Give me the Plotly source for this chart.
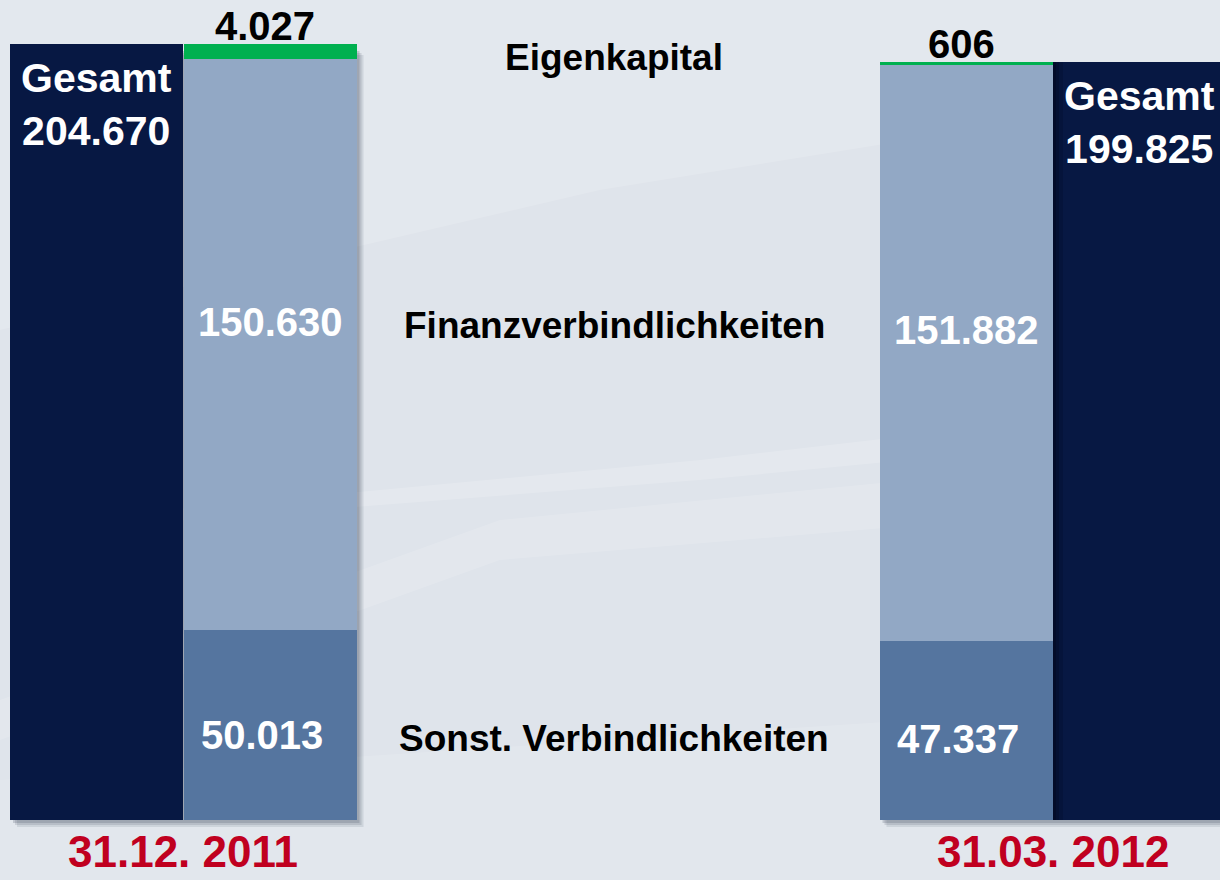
import plotly.graph_objects as go

# Werte in Tsd. EUR
dates = ["31.12. 2011", "31.03. 2012"]
sonst = [50013, 47337]
finanz = [150630, 151882]
eigen = [4027, 606]
gesamt = [204670, 199825]
labels_sonst = ["50.013", "47.337"]
labels_finanz = ["150.630", "151.882"]
labels_eigen = ["4.027", "606"]
labels_gesamt = ["204.670", "199.825"]

NAVY = "#071843"
LIGHT = "#92a8c5"
STEEL = "#55759f"
GREEN = "#00b050"
RED = "#c0001f"
FONT = "Liberation Sans, Arial, sans-serif"

W = 173
x_total = [96.5, 1139.5]
x_stack = [270, 966]

# pixel scale: 0 at y=820, 204.670 at y=44
per_px = gesamt[0] / 776
y_lo = -60 * per_px
y_hi = 820 * per_px


def py(p):
    # pixel -> paper y
    return 1 - p / 880


def px(p):
    return p / 1220


fig = go.Figure()

fig.add_trace(go.Bar(x=x_total, y=gesamt, width=W, marker=dict(color=NAVY, line_width=0), name="Gesamt"))
fig.add_trace(go.Bar(x=x_stack, y=sonst, width=W, marker=dict(color=STEEL, line_width=0), name="Sonst. Verbindlichkeiten"))
fig.add_trace(go.Bar(x=x_stack, y=finanz, width=W, marker=dict(color=LIGHT, line_width=0), name="Finanzverbindlichkeiten"))
fig.add_trace(go.Bar(x=x_stack, y=eigen, width=W, marker=dict(color=GREEN, line_width=0), name="Eigenkapital"))

shapes = []
# hintergrund-streifen (dezent)
streaks = [
    ([(0, 0), (1220, 0), (1220, 90), (600, 190), (0, 330)], "rgba(255,255,255,0.15)"),
    ([(0, 700), (500, 520), (1220, 450), (1220, 500), (500, 560), (0, 740)], "rgba(255,255,255,0.14)"),
    ([(60, 520), (700, 460), (1220, 400), (1220, 430), (700, 480), (60, 530)], "rgba(255,255,255,0.16)"),
    ([(0, 780), (1220, 700), (1220, 880), (0, 880)], "rgba(255,255,255,0.12)"),
]
for pts, col in streaks:
    path = "M " + " L ".join(f"{px(a):.4f} {py(b):.4f}" for a, b in pts) + " Z"
    shapes.append(dict(type="path", path=path, xref="paper", yref="paper", fillcolor=col,
                       line_width=0, layer="below"))

# schatten
for i in range(2):
    top = sonst[i] + finanz[i] + eigen[i]
    x0 = x_total[i] - W / 2 if i == 0 else x_stack[i] - W / 2
    x1 = x_stack[i] + W / 2 if i == 0 else x_total[i] + W / 2
    for k, a in [(7, 0.12), (5, 0.15), (3, 0.2)]:
        shapes.append(dict(type="rect", xref="x", yref="y", x0=x0 + k, x1=x1 + k,
                           y0=-k * per_px, y1=top - (k + 4) * per_px, fillcolor=f"rgba(60,70,90,{a})",
                           line_width=0, layer="below"))
# dunkler rand links am rechten Gesamt-Balken
for k, a in [(10, 0.15), (6, 0.2), (3, 0.25)]:
    shapes.append(dict(type="rect", xref="x", yref="y", x0=x_total[1] - W / 2, x1=x_total[1] - W / 2 + k,
                       y0=0, y1=gesamt[1], fillcolor=f"rgba(0,0,15,{a})", line_width=0, layer="above"))

annotations = []
for i in range(2):
    # Gesamt
    annotations.append(dict(x=x_total[i], y=gesamt[i], yshift=-60, xref="x", yref="y",
                            text="Gesamt<br>" + labels_gesamt[i], showarrow=False,
                            font=dict(family=FONT, size=41, color="white", weight="bold"),
                            yanchor="middle"))
    # Finanz
    annotations.append(dict(x=x_stack[i], y=sonst[i] + finanz[i] * 0.54, xref="x", yref="y",
                            text=labels_finanz[i], showarrow=False, yanchor="middle",
                            font=dict(family=FONT, size=40, color="white", weight="bold")))
    # Sonst
    annotations.append(dict(x=x_stack[i] - 8, y=sonst[i] * 0.45, xref="x", yref="y",
                            text=labels_sonst[i], showarrow=False, yanchor="middle",
                            font=dict(family=FONT, size=40, color="white", weight="bold")))
    # Eigenkapital
    annotations.append(dict(x=x_stack[i] - 5, y=sonst[i] + finanz[i] + eigen[i], xref="x", yref="y",
                            text=labels_eigen[i], showarrow=False, yanchor="bottom", yshift=-6,
                            font=dict(family=FONT, size=40, color="black", weight="bold")))
    # Datum
    annotations.append(dict(x=x_total[i] + W / 2 if i == 0 else x_stack[i] + W / 2, y=py(851),
                            xref="x", yref="paper", text=dates[i], showarrow=False, yanchor="middle",
                            font=dict(family=FONT, size=44, color=RED, weight="bold")))

for txt, ypx in [("Eigenkapital", 57), ("Finanzverbindlichkeiten", 325), ("Sonst. Verbindlichkeiten", 738)]:
    annotations.append(dict(x=614, y=py(ypx), xref="x", yref="paper", text=txt, showarrow=False,
                            yanchor="middle",
                            font=dict(family=FONT, size=37, color="black", weight="bold")))

fig.update_layout(
    width=1220,
    height=880,
    margin=dict(l=0, r=0, t=0, b=0),
    barmode="stack",
    bargap=0,
    showlegend=False,
    paper_bgcolor="#dfe4eb",
    plot_bgcolor="rgba(0,0,0,0)",
    xaxis=dict(range=[0, 1220], visible=False, fixedrange=True),
    yaxis=dict(range=[y_lo, y_hi], visible=False, fixedrange=True),
    shapes=shapes,
    annotations=annotations,
)

fig.write_html("out.html", config={"displayModeBar": False},
               post_script="document.body.style.margin='0';document.body.style.overflow='hidden';")
